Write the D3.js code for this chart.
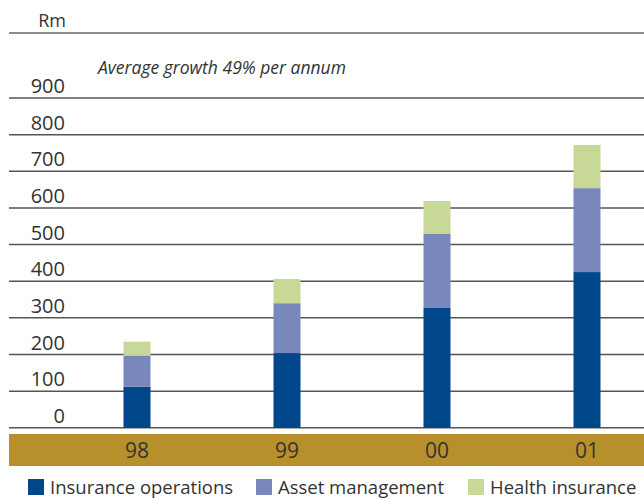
<!DOCTYPE html>
<html>
<head>
<meta charset="utf-8">
<script src="https://cdn.jsdelivr.net/npm/d3@7"></script>
<style>
  html, body { margin: 0; padding: 0; background: #fff; }
  svg { display: block; font-family: "Open Sans", "Noto Sans", sans-serif; }
</style>
</head>
<body>
<div id="chart"></div>
<script>
const years = ["98", "99", "00", "01"]
const insurance = [112, 204, 327, 425]
const asset = [85, 136, 202, 229]
const health = [38, 66, 90, 118]
const seriesNames = ["Insurance operations", "Asset management", "Health insurance"]
const colors = ["#00468b", "#7888bc", "#c8d896"]
const yTicks = [0, 100, 200, 300, 400, 500, 600, 700, 800, 900]

const width = 644
const height = 499

const rows = years.map((y, i) => ({
    year: y,
    "Insurance operations": insurance[i],
    "Asset management": asset[i],
    "Health insurance": health[i]
}))

const stacked = d3.stack().keys(seriesNames)(rows)

const svg = d3.select("#chart")
    .append("svg")
    .attr("width", width)
    .attr("height", height)

const x = d3.scaleBand()
    .domain(years)
    .range([62, 662])
    .paddingInner(0.82)
    .paddingOuter(0.41)

const y = d3.scaleLinear()
    .domain([0, 900])
    .range([427.8, 98])

// top rule under "Rm"
svg.append("line")
    .attr("x1", 9).attr("x2", width)
    .attr("y1", 33).attr("y2", 33)
    .attr("stroke", "#666").attr("stroke-width", 1.5)

svg.append("text")
    .attr("x", 66).attr("y", 27)
    .attr("text-anchor", "end")
    .attr("font-size", 18)
    .attr("fill", "#333")
    .text("Rm")

svg.append("text")
    .attr("x", 98).attr("y", 74)
    .attr("font-size", 17.5)
    .attr("font-style", "italic")
    .attr("fill", "#333")
    .text("Average growth 49% per annum")

// gridlines + tick labels
const grid = svg.append("g")
grid.selectAll("line")
    .data(yTicks)
    .enter()
    .append("line")
    .attr("x1", 9).attr("x2", width)
    .attr("y1", d => y(d)).attr("y2", d => y(d))
    .attr("stroke", "#555")
    .attr("stroke-width", 1.5)

grid.selectAll("text")
    .data(yTicks)
    .enter()
    .append("text")
    .attr("x", 65)
    .attr("y", d => y(d) - 5)
    .attr("text-anchor", "end")
    .attr("font-size", 20)
    .attr("fill", "#333")
    .text(d => d)

// bars
svg.append("g")
    .selectAll("g")
    .data(stacked)
    .enter()
    .append("g")
    .attr("fill", (d, i) => colors[i])
    .selectAll("rect")
    .data(d => d)
    .enter()
    .append("rect")
    .attr("x", d => x(d.data.year))
    .attr("width", x.bandwidth())
    .attr("y", d => y(d[1]))
    .attr("height", d => y(d[0]) - y(d[1]))

// gold category band
svg.append("rect")
    .attr("x", 9).attr("y", 434)
    .attr("width", width - 9).attr("height", 32)
    .attr("fill", "#b8902b")

svg.append("g")
    .selectAll("text")
    .data(years)
    .enter()
    .append("text")
    .attr("x", d => x(d) + x.bandwidth() / 2)
    .attr("y", 458)
    .attr("text-anchor", "middle")
    .attr("font-size", 21)
    .attr("fill", "#333")
    .text(d => d)

// legend
const legendX = [28, 256, 468]
const legend = svg.append("g")
    .selectAll("g")
    .data(seriesNames)
    .enter()
    .append("g")
    .attr("transform", (d, i) => `translate(${legendX[i]},479)`)

legend.append("rect")
    .attr("width", 16).attr("height", 16)
    .attr("fill", (d, i) => colors[i])

legend.append("text")
    .attr("x", 22).attr("y", 15)
    .attr("font-size", 18.5)
    .attr("fill", "#333")
    .text(d => d)
</script>
</body>
</html>
